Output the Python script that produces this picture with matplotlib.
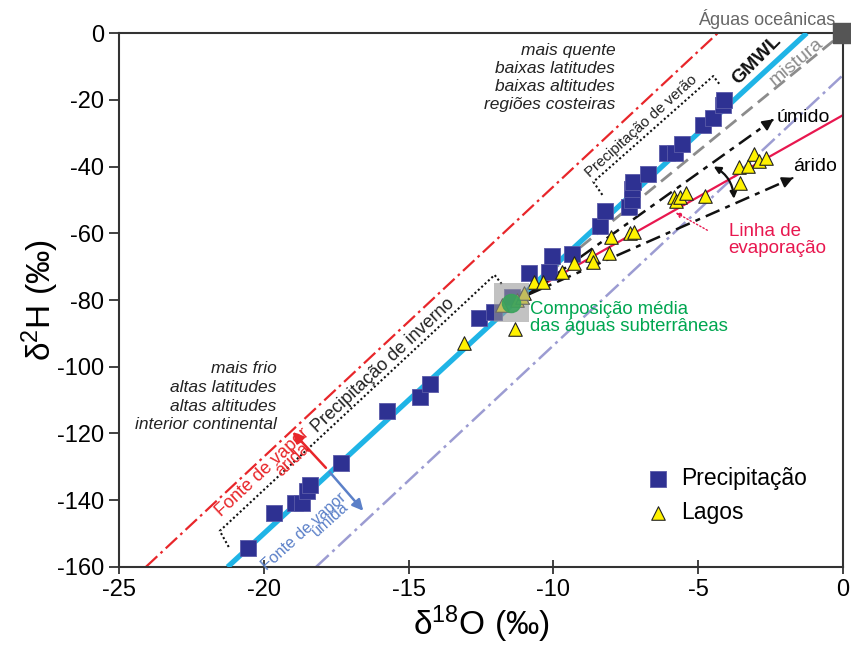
import numpy as np
import matplotlib
matplotlib.use("Agg")
import matplotlib.pyplot as plt
from matplotlib.patches import Rectangle, FancyArrowPatch

plt.rcParams['font.family'] = ['Liberation Sans', 'DejaVu Sans']
plt.rcParams['mathtext.fontset'] = 'custom'
plt.rcParams['mathtext.rm'] = 'Liberation Sans'
plt.rcParams['mathtext.default'] = 'regular'
plt.rcParams['axes.unicode_minus'] = False

# Precipitação (d18O, d2H)
precip_x = [-20.56, -19.64, -18.92, -18.67, -18.52, -18.40, -17.34, -15.73, -14.61, -14.27,
            -12.58, -12.06, -11.42, -10.85, -10.16, -10.04, -9.36, -8.38, -8.21, -7.40,
            -7.29, -7.28, -7.25, -6.75, -6.08, -5.79, -5.56, -4.83, -4.48, -4.14, -4.10]
precip_y = [-154.4, -143.7, -140.7, -140.7, -137.1, -135.4, -128.7, -113.2, -109.0, -105.2,
            -85.5, -83.5, -79.0, -72.0, -71.5, -66.8, -66.2, -57.8, -53.3, -52.0,
            -50.0, -46.7, -44.6, -42.2, -36.0, -35.9, -33.3, -27.6, -25.5, -21.6, -20.1]

# Lagos
lagos_x = [-13.09, -11.31, -11.77, -11.25, -11.08, -11.00, -10.68, -10.36, -9.70, -9.28,
           -8.67, -8.63, -8.09, -8.01, -7.34, -7.21, -5.83, -5.76, -5.62, -5.41,
           -4.76, -3.55, -3.58, -3.27, -3.09, -2.89, -2.66]
lagos_y = [-93.0, -88.8, -81.5, -80.0, -79.0, -78.0, -74.5, -74.5, -71.5, -69.0,
           -66.5, -68.5, -66.0, -61.2, -60.0, -59.5, -49.0, -50.2, -49.0, -48.0,
           -48.8, -44.9, -40.2, -39.9, -36.3, -38.3, -37.4]

# reference lines
gmwl_x = [-21.25, -1.25]          # d2H = 8 d18O + 10
arida_x = [-24.07, -4.32]         # fonte de vapor árida
umida_x = [-18.2, 0.0]            # fonte de vapor úmida
mistura_x = [-11.3, 0.0]
mistura_y = [-80.0, 0.0]
evap_x = [-11.3, 0.0]
evap_y = [-80.0, -24.6]
gw_x, gw_y = -11.48, -80.8        # composição média das águas subterrâneas

fig = plt.figure(figsize=(8.51, 6.46), dpi=100)
ax = fig.add_axes([0.1398, 0.1223, 0.8508, 0.8266])
ax.set_xlim(-25, 0)
ax.set_ylim(-160, 0)

ax.plot(gmwl_x, [8 * v + 10 for v in gmwl_x], color='#1fb4e6', lw=3.8, zorder=3,
        solid_capstyle='butt')
ax.plot(arida_x, [8.1 * v + 35 for v in arida_x], color='#e8262a', lw=1.6,
        dashes=(7, 2, 1.2, 2), zorder=2)
ax.plot(umida_x, [8.1 * v - 12.6 for v in umida_x], color='#9c9cd2', lw=1.8,
        dashes=(7, 2, 1.2, 2), zorder=2)
ax.plot(mistura_x, mistura_y, color='#8c8c8c', lw=2, dashes=(5, 2.5), zorder=2)
ax.plot(evap_x, evap_y, color='#e8174f', lw=1.6, zorder=2)

# black dashed arrows (úmido / árido)
for hx, hy in [(-2.52, -26.6), (-1.83, -43.8)]:
    ax.plot([-10.9, hx], [-78.5, hy], color='#111111', lw=1.8, dashes=(6, 2.5, 2, 2.5), zorder=3)
    ax.annotate('', xy=(hx + 0.2, hy + 0.2 * (hy + 78.5) / (hx + 10.9)), xytext=(hx, hy),
                arrowprops=dict(arrowstyle='-|>', color='#111111', lw=1.5,
                                mutation_scale=16), zorder=3)
ax.add_patch(FancyArrowPatch((-4.55, -39.6), (-3.76, -50.5), arrowstyle='<|-|>',
                             mutation_scale=10, color='#111111', lw=1.6,
                             connectionstyle='arc3,rad=-0.3', zorder=3))

# dotted brackets
ax.plot([-21.21, -21.52, -12.03, -11.76], [-154.0, -149.2, -72.5, -75.5],
        color='#111111', lw=1.5, ls=(0, (1, 1.2)), zorder=2)
ax.plot([-8.31, -8.62, -4.48, -4.24], [-48.5, -44.6, -12.9, -15.6],
        color='#111111', lw=1.5, ls=(0, (1, 1.2)), zorder=2)

# vapour source arrows
ax.annotate('', xy=(-19.07, -118.9), xytext=(-17.79, -130.9),
            arrowprops=dict(arrowstyle='-|>', color='#e8262a', lw=1.8, mutation_scale=16))
ax.annotate('', xy=(-16.5, -143.8), xytext=(-17.79, -130.9),
            arrowprops=dict(arrowstyle='-|>', color='#5b80c8', lw=1.8, mutation_scale=16))

# data
ax.scatter(precip_x, precip_y, marker='s', s=120, color='#2e3192', edgecolor='#5b5ba8',
           linewidth=0.6, zorder=5, label='Precipitação')
ax.scatter(lagos_x, lagos_y, marker='^', s=95, color='#fff200', edgecolor='#222222',
           linewidth=0.8, zorder=6, label='Lagos')

ax.add_patch(Rectangle((-12.06, -86.5), 1.23, 11.5, facecolor='#9a9a9a', alpha=0.6,
                       edgecolor='none', zorder=7))
ax.scatter([gw_x], [gw_y], s=170, color='#3aa35c', alpha=0.9, zorder=8)

# ocean water
ax.scatter([0], [0], marker='s', s=200, color='#555555', zorder=10, clip_on=False)
ax.text(-0.25, 1.2, 'Águas oceânicas', color='#666666', fontsize=13, ha='right', va='bottom')

# labels on the plot
ax.text(-2.97, -8.0, 'GMWL', fontsize=14, fontweight='bold', rotation=45,
        ha='center', va='center', color='#111111')
ax.text(-1.62, -8.6, 'mistura', fontsize=14, rotation=40, ha='center', va='center',
        color='#8c8c8c')
ax.text(-2.28, -25.2, 'úmido', fontsize=14, ha='left', va='center')
ax.text(-1.72, -40.1, 'árido', fontsize=14, ha='left', va='center')
ax.text(-3.95, -62.0, 'Linha de\nevaporação', fontsize=13.5, color='#e8174f',
        ha='left', va='center', linespacing=1.0)
ax.annotate('', xy=(-5.86, -53.4), xytext=(-4.6, -59.5),
            arrowprops=dict(arrowstyle='-|>', color='#e8174f', lw=1.0, ls=':',
                            mutation_scale=8))
ax.text(-10.8, -85.4, 'Composição média\ndas águas subterrâneas', fontsize=13.3,
        color='#00a650', ha='left', va='center', linespacing=1.0)

ax.text(-7.86, -13.3, 'mais quente\nbaixas latitudes\nbaixas altitudes\nregiões costeiras',
        fontsize=12.5, style='italic', ha='right', va='center', multialignment='right',
        linespacing=1.25, color='#222222')
ax.text(-19.55, -109.0, 'mais frio\naltas latitudes\naltas altitudes\ninterior continental',
        fontsize=12.5, style='italic', ha='right', va='center', multialignment='right',
        linespacing=1.3, color='#222222')

ax.text(-18.17, -119.9, 'Precipitação de inverno', fontsize=13, rotation=43,
        rotation_mode='anchor', ha='left', va='baseline', color='#222222')
ax.text(-8.72, -43.4, 'Precipitação de verão', fontsize=10.8, rotation=42,
        rotation_mode='anchor', ha='left', va='baseline', color='#222222')
ax.text(-20.03, -131.6, 'Fonte de vapor', fontsize=13, rotation=43, color='#e8262a',
        rotation_mode='anchor', ha='center', va='center')
ax.text(-19.0, -127.8, 'árida', fontsize=13, rotation=43, color='#e8262a',
        rotation_mode='anchor', ha='center', va='center')
ax.text(-18.62, -149.4, 'Fonte de vapor', fontsize=11.5, rotation=42, color='#5b80c8',
        rotation_mode='anchor', ha='center', va='center')
ax.text(-17.72, -145.6, 'úmida', fontsize=11.5, rotation=42, color='#5b80c8',
        rotation_mode='anchor', ha='center', va='center')

ax.legend(loc='upper left', bbox_to_anchor=(0.70, 0.205), frameon=False, fontsize=16.5,
          handletextpad=0.0, labelspacing=0.5, borderaxespad=0, scatterpoints=1)

# axes
for sp in ax.spines.values():
    sp.set_color('#333333')
    sp.set_linewidth(1.5)
ax.set_xticks([-25, -20, -15, -10, -5, 0])
ax.set_yticks(np.arange(-160, 1, 20))
ax.tick_params(axis='y', direction='out', length=7, width=1.3, labelsize=17, color='#333333')
ax.tick_params(axis='x', direction='inout', length=10, width=1.3, labelsize=17, color='#333333')
ax.set_xlabel('δ$^{18}$O (‰)', fontsize=24, labelpad=2)
ax.set_ylabel('δ$^{2}$H (‰)', fontsize=24, labelpad=-3)

fig.savefig('out.png', dpi=100)
